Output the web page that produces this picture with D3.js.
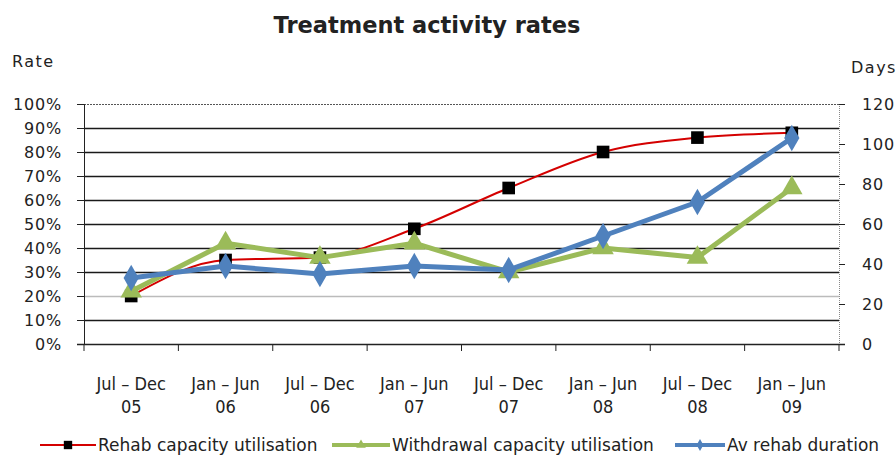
<!DOCTYPE html>
<html>
<head>
<meta charset="utf-8">
<script src="https://cdn.jsdelivr.net/npm/d3@7"></script>
<style>
  body { margin: 0; background: #fff; }
  text { font-family: "DejaVu Sans", "Lato", sans-serif; fill: #222; }
  .narrow { font-family: "DejaVu Sans Condensed", "Liberation Sans Narrow", sans-serif; }
</style>
</head>
<body>
<svg id="drawing_region"></svg>
<script>
const periods = ["Jul – Dec|05", "Jan –  Jun|06", "Jul – Dec|06", "Jan – Jun|07",
                 "Jul – Dec|07", "Jan – Jun|08", "Jul – Dec|08", "Jan – Jun|09"];
const rehabUtil = [0.20, 0.35, 0.36, 0.48, 0.65, 0.80, 0.86, 0.88];
const withdrawalUtil = [0.22, 0.42, 0.36, 0.42, 0.30, 0.40, 0.36, 0.65];
const rehabDays = [33, 39, 35, 39, 37, 54, 71, 103];
const rateTicks = [0, 0.1, 0.2, 0.3, 0.4, 0.5, 0.6, 0.7, 0.8, 0.9, 1.0];
const dayTicks = [0, 20, 40, 60, 80, 100, 120];

const width = 896, height = 456;
const margin = {top: 104, right: 57, bottom: 112, left: 84};

const svg = d3.select('#drawing_region')
    .attr('width', width)
    .attr('height', height);

const x = d3.scaleBand()
    .domain(periods)
    .range([margin.left, width - margin.right]);
const cx = d => x(d) + x.bandwidth() / 2;

const yRate = d3.scaleLinear().domain([0, 1]).range([height - margin.bottom, margin.top]);
const yDays = d3.scaleLinear().domain([0, 120]).range([height - margin.bottom, margin.top]);

// gridlines
svg.append('g')
    .selectAll('line')
    .data(rateTicks.slice(1))
    .join('line')
    .attr('x1', margin.left)
    .attr('x2', width - margin.right)
    .attr('y1', d => yRate(d) + 0.5)
    .attr('y2', d => yRate(d) + 0.5)
    .attr('stroke', d => d === 0.2 ? '#bbb' : (d === 1 ? '#555' : '#1a1a1a'))
    .attr('stroke-width', d => d === 1 ? 1 : 1.4)
    .attr('stroke-dasharray', d => d === 1 ? '2,1' : null);

// right border (dotted)
svg.append('line')
    .attr('x1', width - margin.right + 0.5).attr('x2', width - margin.right + 0.5)
    .attr('y1', margin.top).attr('y2', height - margin.bottom)
    .attr('stroke', '#888')
    .attr('stroke-dasharray', '1,1');

// left axis
const leftAxis = svg.append('g')
    .attr('transform', `translate(${margin.left},0)`)
    .call(d3.axisLeft(yRate).tickValues(rateTicks).tickFormat(d3.format('.0%')).tickSizeOuter(0).tickSize(7).tickPadding(15));
leftAxis.selectAll('text').style('font-size', '16px').style('letter-spacing', '0.8px').attr('fill', '#222');
leftAxis.selectAll('line, path').attr('stroke', '#222');

// right axis
const rightAxis = svg.append('g')
    .attr('transform', `translate(${width - margin.right},0)`)
    .call(d3.axisRight(yDays).tickValues(dayTicks).tickSizeOuter(0).tickSize(6).tickPadding(17));
rightAxis.selectAll('text').style('font-size', '16px').style('letter-spacing', '0.8px').attr('fill', '#222');
rightAxis.select('.domain').remove();
rightAxis.selectAll('line').attr('stroke', '#222');

// bottom axis: ticks at category boundaries
const bottom = height - margin.bottom;
svg.append('line')
    .attr('x1', margin.left - 7).attr('x2', width - margin.right + 6)
    .attr('y1', bottom + 0.5).attr('y2', bottom + 0.5)
    .attr('stroke', '#222').attr('stroke-width', 1.3);
svg.append('g')
    .selectAll('line')
    .data(periods.concat(['end']))
    .join('line')
    .attr('x1', (d, i) => i < periods.length ? x(d) : width - margin.right)
    .attr('x2', (d, i) => i < periods.length ? x(d) : width - margin.right)
    .attr('y1', bottom)
    .attr('y2', bottom + 7)
    .attr('stroke', '#222');

// category labels (two lines)
const catLabels = svg.append('g').selectAll('text')
    .data(periods)
    .join('text')
    .attr('class', 'narrow')
    .attr('x', d => cx(d))
    .attr('y', 390)
    .attr('text-anchor', 'middle')
    .attr('fill', '#333')
    .style('font-size', '18px');
catLabels.append('tspan').attr('x', d => cx(d)).text(d => d.split('|')[0]);
catLabels.append('tspan').attr('x', d => cx(d)).attr('dy', 23).text(d => d.split('|')[1]);

// title and axis names
svg.append('text')
    .attr('x', 427).attr('y', 33)
    .attr('text-anchor', 'middle')
    .style('font-size', '22.5px').style('font-weight', 'bold')
    .attr('fill', '#000')
    .text('Treatment activity rates');
svg.append('text').attr('x', 12).attr('y', 67).style('font-size', '16px').style('letter-spacing', '1.5px').text('Rate');
svg.append('text').attr('x', 851).attr('y', 73).style('font-size', '16px').style('letter-spacing', '1.5px').text('Days');

// series
const series = [
    {name: 'Rehab capacity utilisation', values: rehabUtil, y: yRate, color: '#d40000', width: 2,
     curve: d3.curveMonotoneX, marker: d3.symbolSquare, msize: 160, mcolor: '#000'},
    {name: 'Withdrawal capacity utilisation', values: withdrawalUtil, y: yRate, color: '#9bbb59', width: 5,
     curve: d3.curveLinear, marker: d3.symbolTriangle, msize: 200, mcolor: '#9bbb59'},
    {name: 'Av rehab duration', values: rehabDays, y: yDays, color: '#4f81bd', width: 5,
     curve: d3.curveLinear, marker: d3.symbolDiamond, msize: 200, mcolor: '#4f81bd'}
];

series.forEach(s => {
    const line = d3.line()
        .x((d, i) => cx(periods[i]))
        .y(d => s.y(d))
        .curve(s.curve);
    svg.append('path')
        .datum(s.values)
        .attr('d', line)
        .attr('fill', 'none')
        .attr('stroke', s.color)
        .attr('stroke-width', s.width)
        .attr('stroke-linejoin', 'round');
    svg.append('g').selectAll('path')
        .data(s.values)
        .join('path')
        .attr('d', d3.symbol().type(s.marker).size(s.msize))
        .attr('transform', (d, i) => `translate(${cx(periods[i])},${s.y(d)})`)
        .attr('fill', s.mcolor);
});

// legend
const legendX = [40, 332, 675];
const legendW = [56, 58, 50];
const legend = svg.append('g').selectAll('g')
    .data(series)
    .join('g')
    .attr('transform', (d, i) => `translate(${legendX[i]},445)`);
legend.append('line')
    .attr('x1', 0).attr('x2', (d, i) => legendW[i])
    .attr('stroke', d => d.color)
    .attr('stroke-width', d => d.width === 2 ? 2 : 4);
legend.append('path')
    .attr('d', d => d3.symbol().type(d.marker).size(d.width === 2 ? 70 : 40)())
    .attr('transform', (d, i) => `translate(${legendW[i] / 2},0)`)
    .attr('fill', d => d.mcolor);
legend.append('text')
    .attr('x', (d, i) => legendW[i] + 2)
    .attr('y', 6)
    .style('font-size', '17px')
    .text(d => d.name);
</script>
</body>
</html>
